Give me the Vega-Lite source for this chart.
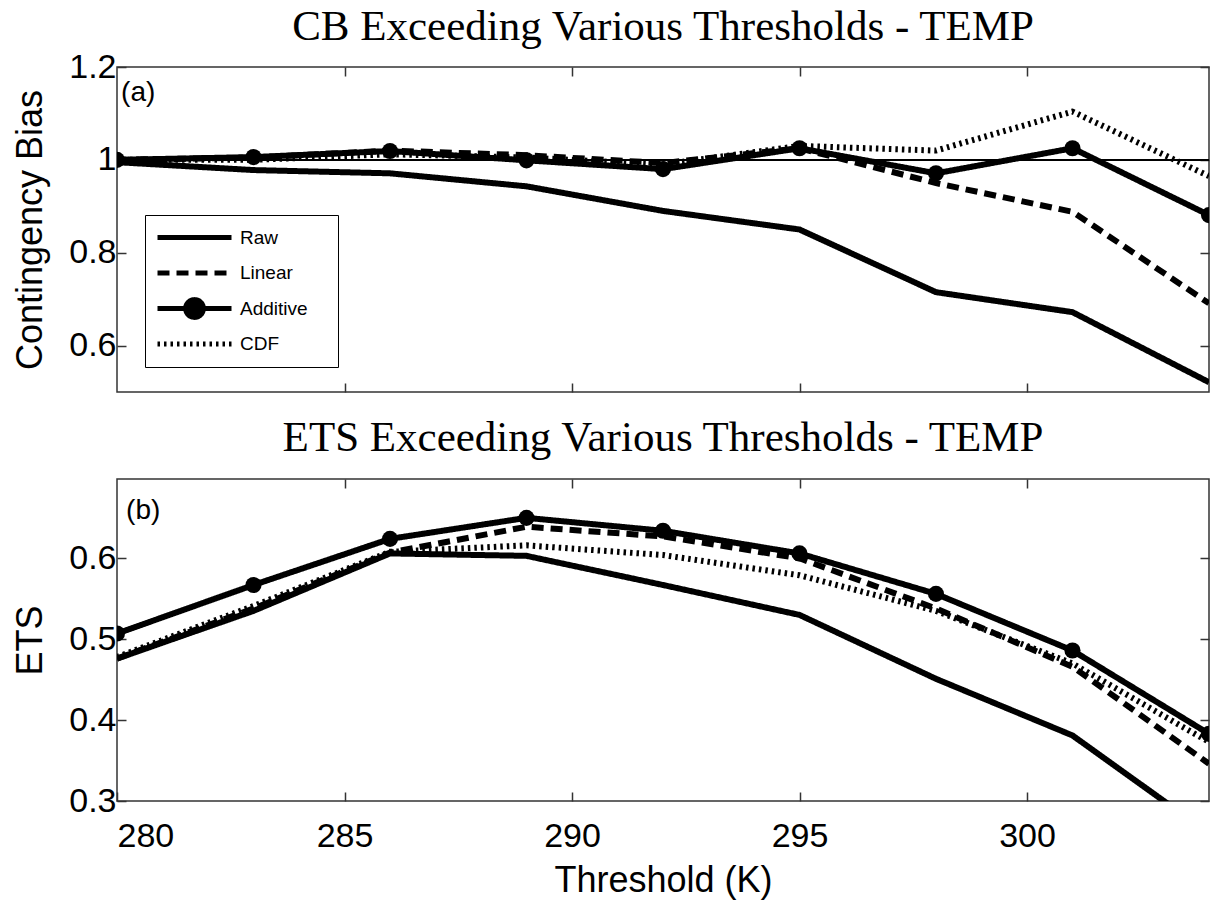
{
  "$schema": "https://vega.github.io/schema/vega-lite/v6.json",
  "padding": {"left": 11, "top": 5, "right": 4, "bottom": 4},
  "background": "white",
  "datasets": {
    "cb": [
      {"t": 280, "v": 0.995, "series": "Raw"}, {"t": 283, "v": 0.978, "series": "Raw"}, {"t": 286, "v": 0.971, "series": "Raw"},
      {"t": 289, "v": 0.943, "series": "Raw"}, {"t": 292, "v": 0.89, "series": "Raw"}, {"t": 295, "v": 0.85, "series": "Raw"},
      {"t": 298, "v": 0.715, "series": "Raw"}, {"t": 301, "v": 0.672, "series": "Raw"}, {"t": 304, "v": 0.521, "series": "Raw"},
      {"t": 280, "v": 1.0, "series": "Linear"}, {"t": 283, "v": 1.005, "series": "Linear"}, {"t": 286, "v": 1.02, "series": "Linear"},
      {"t": 289, "v": 1.01, "series": "Linear"}, {"t": 292, "v": 0.993, "series": "Linear"}, {"t": 295, "v": 1.025, "series": "Linear"},
      {"t": 298, "v": 0.95, "series": "Linear"}, {"t": 301, "v": 0.888, "series": "Linear"}, {"t": 304, "v": 0.691, "series": "Linear"},
      {"t": 280, "v": 1.0, "series": "Additive"}, {"t": 283, "v": 1.006, "series": "Additive"}, {"t": 286, "v": 1.019, "series": "Additive"},
      {"t": 289, "v": 0.999, "series": "Additive"}, {"t": 292, "v": 0.98, "series": "Additive"}, {"t": 295, "v": 1.025, "series": "Additive"},
      {"t": 298, "v": 0.971, "series": "Additive"}, {"t": 301, "v": 1.025, "series": "Additive"}, {"t": 304, "v": 0.881, "series": "Additive"},
      {"t": 280, "v": 1.0, "series": "CDF"}, {"t": 283, "v": 1.0, "series": "CDF"}, {"t": 286, "v": 1.012, "series": "CDF"},
      {"t": 289, "v": 1.005, "series": "CDF"}, {"t": 292, "v": 0.99, "series": "CDF"}, {"t": 295, "v": 1.03, "series": "CDF"},
      {"t": 298, "v": 1.02, "series": "CDF"}, {"t": 301, "v": 1.104, "series": "CDF"}, {"t": 304, "v": 0.965, "series": "CDF"}
    ],
    "ets": [
      {"t": 280, "v": 0.476, "series": "Raw"}, {"t": 283, "v": 0.535, "series": "Raw"}, {"t": 286, "v": 0.606, "series": "Raw"},
      {"t": 289, "v": 0.603, "series": "Raw"}, {"t": 292, "v": 0.567, "series": "Raw"}, {"t": 295, "v": 0.53, "series": "Raw"},
      {"t": 298, "v": 0.451, "series": "Raw"}, {"t": 301, "v": 0.381, "series": "Raw"}, {"t": 304, "v": 0.26, "series": "Raw"},
      {"t": 280, "v": 0.476, "series": "Linear"}, {"t": 283, "v": 0.538, "series": "Linear"}, {"t": 286, "v": 0.607, "series": "Linear"},
      {"t": 289, "v": 0.639, "series": "Linear"}, {"t": 292, "v": 0.627, "series": "Linear"}, {"t": 295, "v": 0.6, "series": "Linear"},
      {"t": 298, "v": 0.538, "series": "Linear"}, {"t": 301, "v": 0.466, "series": "Linear"}, {"t": 304, "v": 0.346, "series": "Linear"},
      {"t": 280, "v": 0.507, "series": "Additive"}, {"t": 283, "v": 0.567, "series": "Additive"}, {"t": 286, "v": 0.624, "series": "Additive"},
      {"t": 289, "v": 0.65, "series": "Additive"}, {"t": 292, "v": 0.634, "series": "Additive"}, {"t": 295, "v": 0.606, "series": "Additive"},
      {"t": 298, "v": 0.556, "series": "Additive"}, {"t": 301, "v": 0.486, "series": "Additive"}, {"t": 304, "v": 0.383, "series": "Additive"},
      {"t": 280, "v": 0.478, "series": "CDF"}, {"t": 283, "v": 0.541, "series": "CDF"}, {"t": 286, "v": 0.608, "series": "CDF"},
      {"t": 289, "v": 0.616, "series": "CDF"}, {"t": 292, "v": 0.604, "series": "CDF"}, {"t": 295, "v": 0.579, "series": "CDF"},
      {"t": 298, "v": 0.535, "series": "CDF"}, {"t": 301, "v": 0.47, "series": "CDF"}, {"t": 304, "v": 0.373, "series": "CDF"}
    ]
  },
  "config": {
    "font": "Liberation Sans",
    "view": {"stroke": "#333333", "strokeWidth": 1.5},
    "axis": {
      "grid": false, "domain": false, "tickColor": "#333333", "tickSize": -9, "tickWidth": 1.5,
      "labelFont": "Liberation Sans", "labelFontSize": 34, "labelColor": "black",
      "titleFont": "Liberation Sans", "titleFontSize": 36, "titleFontWeight": "normal", "titleColor": "black"
    },
    "title": {"font": "Liberation Serif", "fontSize": 43, "fontWeight": "normal", "color": "black", "offset": 1}
  },
  "spacing": 22,
  "vconcat": [
    {
      "title": {"text": "CB Exceeding Various Thresholds - TEMP", "offset": 1},
      "width": 1092, "height": 325,
      "data": {"name": "cb"},
      "resolve": {"axis": {"x": "independent", "y": "independent"}},
      "layer": [
        {
          "mark": {"type": "line", "color": "black", "clip": true, "strokeWidth": 6},
          "encoding": {
            "x": {"field": "t", "type": "quantitative", "scale": {"domain": [280, 304], "nice": false, "zero": false},
                  "axis": {"orient": "bottom", "values": [285, 290, 295, 300], "labels": false, "title": null}},
            "y": {"field": "v", "type": "quantitative", "scale": {"domain": [0.5, 1.2], "nice": false, "zero": false},
                  "axis": {"orient": "left", "values": [0.6, 0.8, 1, 1.2], "labelExpr": "'' + datum.value", "title": "Contingency Bias", "labelPadding": 10, "titlePadding": 19}},
            "strokeDash": {"field": "series", "type": "nominal",
              "scale": {"domain": ["Raw", "Linear", "Additive", "CDF"], "range": [[1, 0], [12, 7], [1, 0], [2.5, 4]]},
              "legend": {"orient": "none", "legendX": 28, "legendY": 148, "title": "\u00a0",
                "titleOrient": "right", "titlePadding": 20, "titleFontSize": 2,
                "strokeColor": "black", "fillColor": "white", "padding": 10,
                "labelFontSize": 19, "labelFont": "Liberation Sans", "labelColor": "black", "labelOffset": 6,
                "symbolSize": 5476, "symbolStrokeWidth": 5, "symbolStrokeColor": "black", "clipHeight": 25, "rowPadding": 10.5,
                "symbolType": "M-1,0H1",
                "encode": {"symbols": {"update": {
                  "shape": {"signal": "datum.value === 'Additive' ? 'M-1,0H1M-0.24,0A0.24,0.24 0 1,0 0.24,0A0.24,0.24 0 1,0 -0.24,0' : 'M-1,0H1'"},
                  "fill": {"signal": "datum.value === 'Additive' ? 'black' : 'transparent'"},
                  "stroke": {"value": "black"},
                  "strokeWidth": {"value": 5},
                  "strokeOpacity": {"value": 1}
                }}}
              }}
          }
        },
        {
          "mark": {"type": "rule", "color": "black", "strokeWidth": 1},
          "encoding": {"y": {"datum": 1, "type": "quantitative", "axis": null}}
        },
        {
          "transform": [{"filter": "datum.series === 'Additive'"}],
          "mark": {"type": "point", "filled": true, "color": "black", "opacity": 1, "size": 260, "clip": true},
          "encoding": {
            "x": {"field": "t", "type": "quantitative", "axis": null},
            "y": {"field": "v", "type": "quantitative", "axis": null}
          }
        },
        {
          "data": {"values": [{"t": 280.09, "v": 1.145, "label": "(a)"}]},
          "mark": {"type": "text", "align": "left", "baseline": "middle", "fontSize": 28, "font": "Liberation Sans", "color": "black"},
          "encoding": {
            "x": {"field": "t", "type": "quantitative", "axis": {"orient": "top", "values": [285, 290, 295, 300], "labels": false, "title": null}},
            "y": {"field": "v", "type": "quantitative", "axis": {"orient": "right", "values": [0.6, 0.8, 1, 1.2], "labels": false, "title": null}},
            "text": {"field": "label"}
          }
        }
      ]
    },
    {
      "title": {"text": "ETS Exceeding Various Thresholds - TEMP", "offset": 18},
      "width": 1092, "height": 322,
      "data": {"name": "ets"},
      "resolve": {"axis": {"x": "independent", "y": "independent"}},
      "layer": [
        {
          "mark": {"type": "line", "color": "black", "clip": true, "strokeWidth": 6},
          "encoding": {
            "x": {"field": "t", "type": "quantitative", "scale": {"domain": [280, 304], "nice": false, "zero": false},
                  "axis": {"orient": "bottom", "values": [280, 285, 290, 295, 300], "title": "Threshold (K)", "labelPadding": 27, "titlePadding": 10}},
            "y": {"field": "v", "type": "quantitative", "scale": {"domain": [0.3, 0.698], "nice": false, "zero": false},
                  "axis": {"orient": "left", "values": [0.3, 0.4, 0.5, 0.6], "labelExpr": "'' + datum.value", "title": "ETS", "labelPadding": 10, "titlePadding": 19}},
            "strokeDash": {"field": "series", "type": "nominal",
              "scale": {"domain": ["Raw", "Linear", "Additive", "CDF"], "range": [[1, 0], [12, 7], [1, 0], [2.5, 4]]},
              "legend": null}
          }
        },
        {
          "transform": [{"filter": "datum.series === 'Additive'"}],
          "mark": {"type": "point", "filled": true, "color": "black", "opacity": 1, "size": 260, "clip": true},
          "encoding": {
            "x": {"field": "t", "type": "quantitative", "axis": null},
            "y": {"field": "v", "type": "quantitative", "axis": null}
          }
        },
        {
          "data": {"values": [{"t": 280.2, "v": 0.659, "label": "(b)"}]},
          "mark": {"type": "text", "align": "left", "baseline": "middle", "fontSize": 28, "font": "Liberation Sans", "color": "black"},
          "encoding": {
            "x": {"field": "t", "type": "quantitative", "axis": {"orient": "top", "values": [285, 290, 295, 300], "labels": false, "title": null}},
            "y": {"field": "v", "type": "quantitative", "axis": {"orient": "right", "values": [0.3, 0.4, 0.5, 0.6], "labels": false, "title": null}},
            "text": {"field": "label"}
          }
        }
      ]
    }
  ]
}
